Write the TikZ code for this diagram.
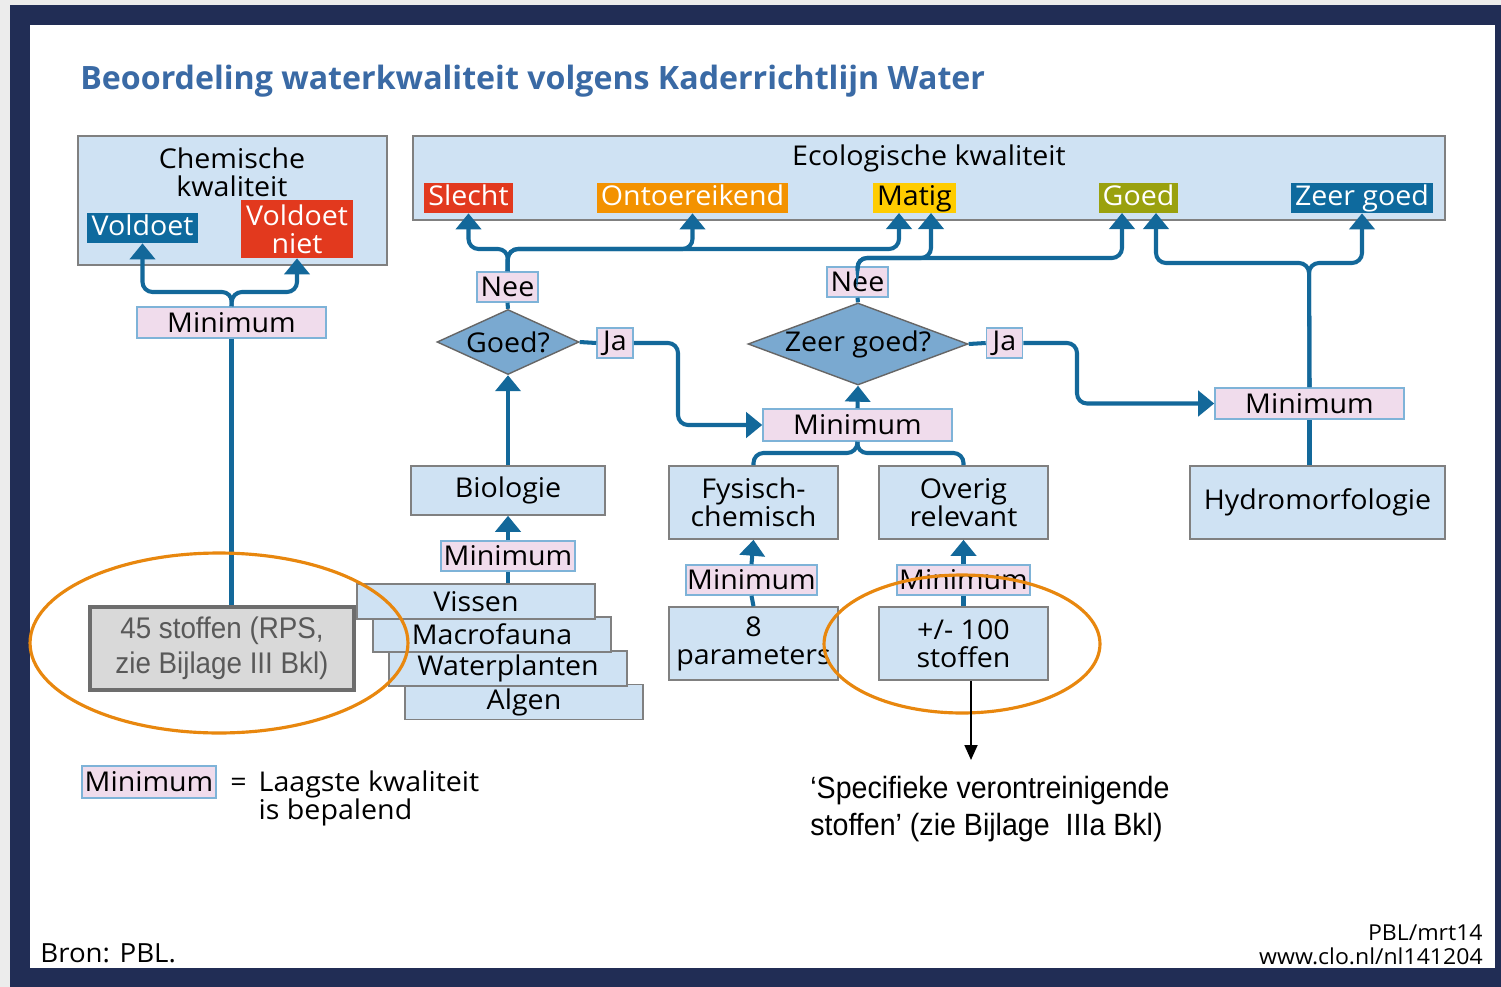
\documentclass[tikz,border=0pt]{standalone}
\usepackage{fontspec}
\setmainfont[FakeStretch=1.05]{Open Sans}
\newfontfamily\titelfont{Open Sans}
\newfontfamily\arialfont[FakeStretch=0.93]{Liberation Sans}
\usetikzlibrary{arrows.meta}
\usetikzlibrary{shapes.geometric}
\usepackage{xcolor}
\definecolor{kader}{HTML}{212D55}
\definecolor{titelblauw}{HTML}{3A6AA5}
\definecolor{lichtblauw}{HTML}{CFE2F3}
\definecolor{roze}{HTML}{F0DCEC}
\definecolor{randblauw}{HTML}{7EB3D8}
\definecolor{pblblauw}{HTML}{13689A}
\definecolor{ruitblauw}{HTML}{7AA9D0}
\definecolor{rood}{HTML}{E2391E}
\definecolor{oranjevak}{HTML}{F39200}
\definecolor{geel}{HTML}{FFCC00}
\definecolor{olijf}{HTML}{9AA10E}
\definecolor{donkerblauw}{HTML}{0E6A9E}
\definecolor{ovaaloranje}{HTML}{E8870E}
\definecolor{grijsvak}{HTML}{D9D9D9}
\definecolor{grijsrand}{HTML}{6D6D6D}
\definecolor{grijstekst}{HTML}{595959}
\newcommand\kw{\fontsize{15.5}{16}\selectfont}
\tikzset{
  vak/.style={draw=gray, fill=lichtblauw, line width=0.9pt, inner sep=0pt, align=center, font=\kw},
  mini/.style={draw=randblauw, fill=roze, line width=0.9pt, inner sep=0pt, font=\kw},
  klasse/.style={fill=#1, text=white, inner sep=0pt, minimum height=0.6cm, text height=11.5pt, text depth=3.5pt, font=\kw},
  ruit/.style={diamond, draw=gray!80!black, fill=ruitblauw, line width=0.8pt, inner sep=0pt, font=\kw},
  lijn/.style={draw=pblblauw, line width=2.3pt, rounded corners=0.2cm},
  pijl/.style={lijn, -{Triangle[length=0.32cm,width=0.5cm]}},
  ovaal/.style={draw=ovaaloranje, line width=1.8pt},
}

\begin{document}
\begin{tikzpicture}[x=0.02cm,y=-0.02cm]
    \useasboundingbox (0,0) rectangle (1501,987);
    % cadre
    \fill[gray!15] (0,0) rectangle (1501,987);
    \fill[kader] (10,5) rectangle (1501,987);
    \fill[white] (30,25) rectangle (1495,968);
    % titre
    \node[anchor=base west, inner sep=0pt, text=titelblauw, font=\titelfont\fontsize{18.3}{22}\selectfont\bfseries] (titel) at (80,89) {Beoordeling waterkwaliteit volgens Kaderrichtlijn Water};

    % chemische kwaliteit
    \node[vak, minimum width=6.18cm, minimum height=2.58cm] (chem) at (232.5,200.5) {};
    \node[align=center, font=\kw, inner sep=0pt] (chemtitel) at (232,172) {Chemische\\kwaliteit};
    \node[klasse=donkerblauw, minimum width=2.22cm] (voldoet) at (142.5,228) {Voldoet};
    \node[fill=rood, text=white, inner sep=0pt, align=center, font=\kw, minimum width=2.24cm, minimum height=1.16cm] (voldoetniet) at (297,229) {Voldoet\\niet};
    \node[mini, minimum width=3.78cm, minimum height=0.62cm] (minchem) at (231.5,322.5) {Minimum};
    \node[draw=grijsrand, line width=2.4pt, fill=grijsvak, text=grijstekst, align=center, inner sep=0pt,
          minimum width=5.28cm, minimum height=1.66cm, font=\arialfont\fontsize{17}{20}\selectfont] (stof45) at (222,648.5) {\raisebox{-3pt}{45 stoffen (RPS,}\\\raisebox{-3pt}{zie Bijlage III Bkl)}};
    \draw[pijl] (minchem.north) -- (232,292) -| (voldoet.south);
    \draw[pijl] (minchem.north) -- (232,292) -| (voldoetniet.south);
    \draw[lijn] (minchem.south) -- (minchem.south |- stof45.north);

    % ecologische kwaliteit
    \node[vak, minimum width=20.64cm, minimum height=1.68cm] (eco) at (929,178) {};
    \node[font=\kw, inner sep=0pt] (ecotitel) at (929,158) {Ecologische kwaliteit};
    \node[klasse=rood, minimum width=1.78cm] (slecht) at (468.5,198) {Slecht};
    \node[klasse=oranjevak, minimum width=3.82cm] (ontoer) at (692.5,198) {Ontoereikend};
    \node[klasse=geel, text=black, minimum width=1.66cm] (matig) at (914.5,198) {Matig};
    \node[klasse=olijf, minimum width=1.58cm] (goed) at (1138.5,198) {Goed};
    \node[klasse=donkerblauw, minimum width=2.84cm] (zeergoed) at (1362,198) {Zeer goed};
    \coordinate (matigL) at (899,213);
    \coordinate (matigR) at (931,213);
    \coordinate (goedL) at (1122,213);
    \coordinate (goedR) at (1156,213);

    % beslissingen
    \node[mini, minimum width=1.22cm, minimum height=0.6cm] (nee1) at (507.5,287) {Nee};
    \node[mini, minimum width=1.22cm, minimum height=0.6cm] (nee2) at (857.5,282) {Nee};
    \node[ruit, aspect=2.18, minimum width=2.84cm, minimum height=1.3cm] (goedvraag) at (508,342) {Goed?};
    \node[ruit, aspect=2.68, minimum width=4.4cm, minimum height=1.64cm] (zeervraag) at (858,344) {Zeer goed?};
    \node[mini, minimum width=0.72cm, minimum height=0.6cm] (ja1) at (615,343) {Ja};
    \node[mini, minimum width=0.72cm, minimum height=0.6cm] (ja2) at (1004.5,343) {Ja};
    \node[mini, minimum width=3.78cm, minimum height=0.64cm] (min2) at (857.5,425) {Minimum};
    \node[mini, minimum width=3.78cm, minimum height=0.62cm] (min3) at (1309.5,403.5) {Minimum};

    \draw[pijl] (nee1.north) -- (508,249) -| (slecht.south);
    \draw[pijl] (nee1.north) -- (508,249) -| (ontoer.south);
    \draw[pijl] (nee1.north) -- (508,249) -| (matigL);
    \draw[pijl] (nee2.north) -- (857,258) -| (matigR);
    \draw[pijl] (nee2.north) -- (857,258) -| (goedL);
    \draw[pijl] (min3.north) -- (1309,263) -| (goedR);
    \draw[pijl] (min3.north) -- (1309,263) -| (zeergoed.south);
    \draw[lijn] (goedvraag.north) -- (nee1.south);
    \draw[lijn] (zeervraag.north) -- (nee2.south);
    \draw[lijn] (goedvraag.east) -- (ja1.west);
    \draw[lijn] (zeervraag.east) -- (ja2.west);
    \draw[pijl] (ja1.east) -- (678,343) |- (min2.west);
    \draw[pijl] (ja2.east) -- (1077,343) |- (min3.west);
    \draw[pijl] (min2.north) -- (zeervraag.south);

    % biologie
    \node[vak, minimum width=3.88cm, minimum height=0.98cm] (bio) at (508,490.5) {Biologie};
    \node[mini, minimum width=2.68cm, minimum height=0.6cm] (min4) at (508,556) {Minimum};
    \node[vak, minimum width=4.76cm, minimum height=0.7cm] (algen) at (524,702) {Algen};
    \node[vak, minimum width=4.76cm, minimum height=0.7cm] (planten) at (508,668.5) {Waterplanten};
    \node[vak, minimum width=4.76cm, minimum height=0.7cm] (macro) at (492,634.5) {Macrofauna};
    \node[vak, minimum width=4.76cm, minimum height=0.7cm] (vissen) at (476,601.5) {Vissen};
    \draw[pijl] (bio.north) -- (goedvraag.south);
    \draw[pijl] (min4.north) -- (bio.south);
    \draw[lijn] (vissen.north -| min4.south) -- (min4.south);

    % fysisch-chemisch en overig
    \node[vak, minimum width=3.38cm, minimum height=1.46cm] (fysisch) at (753.5,502.5) {Fysisch-\\chemisch};
    \node[vak, minimum width=3.38cm, minimum height=1.46cm] (overig) at (963.5,502.5) {Overig\\relevant};
    \node[mini, minimum width=2.62cm, minimum height=0.6cm] (min5) at (751.5,580) {Minimum};
    \node[mini, minimum width=2.66cm, minimum height=0.6cm] (min6) at (963.5,580) {Minimum};
    \node[vak, minimum width=3.38cm, minimum height=1.46cm] (par8) at (753.5,643.5) {8\\parameters};
    \node[vak, minimum width=3.38cm, minimum height=1.46cm] (stof100) at (963.5,643.5) {+/- 100\\stoffen};
    \draw[lijn] (min2.south) -- (857,453) -| (fysisch.north);
    \draw[lijn] (min2.south) -- (857,453) -| (overig.north);
    \draw[pijl] (min5.north) -- (fysisch.south);
    \draw[pijl] (min6.north) -- (overig.south);
    \draw[lijn] (par8.north) -- (min5.south);
    \draw[lijn] (stof100.north) -- (min6.south);

    % hydromorfologie
    \node[vak, minimum width=5.1cm, minimum height=1.46cm] (hydro) at (1317.5,502.5) {Hydromorfologie};
    \draw[lijn] (hydro.north -| min3.south) -- (min3.south);

    % ovalen
    \draw[ovaal] (219,643) ellipse [x radius=3.78cm, y radius=1.8cm];
    \draw[ovaal] (962,644) ellipse [x radius=2.76cm, y radius=1.38cm];

    % toelichting
    \coordinate (punt) at (971,760);
    \draw[line width=1pt, -{Triangle[length=0.3cm,width=0.26cm]}] (stof100.south -| punt) -- (punt);
    \node[anchor=north west, align=left, inner sep=0pt, font=\arialfont\fontsize{17.5}{21}\selectfont] (specifiek) at (810,776)
        {‘Specifieke verontreinigende\\stoffen’ (zie Bijlage~ IIIa Bkl)};

    % legenda
    \node[mini, minimum width=2.68cm, minimum height=0.64cm] (legmin) at (149,782) {Minimum};
    \node[anchor=north west, align=left, inner sep=0pt, font=\kw] (legtekst) at (230,770)
        {= \,Laagste kwaliteit\\\phantom{= \,}is bepalend};

    % bron
    \node[anchor=base west, inner sep=0pt, font=\fontsize{15}{16}\selectfont] (bron) at (40,962) {Bron: PBL.};
    \node[anchor=base east, inner sep=0pt, font=\fontsize{12.5}{15}\selectfont] (datum) at (1483,940) {PBL/mrt14};
    \node[anchor=base east, inner sep=0pt, font=\fontsize{12.5}{15}\selectfont] (url) at (1483,964) {www.clo.nl/nl141204};
\end{tikzpicture}
\end{document}
